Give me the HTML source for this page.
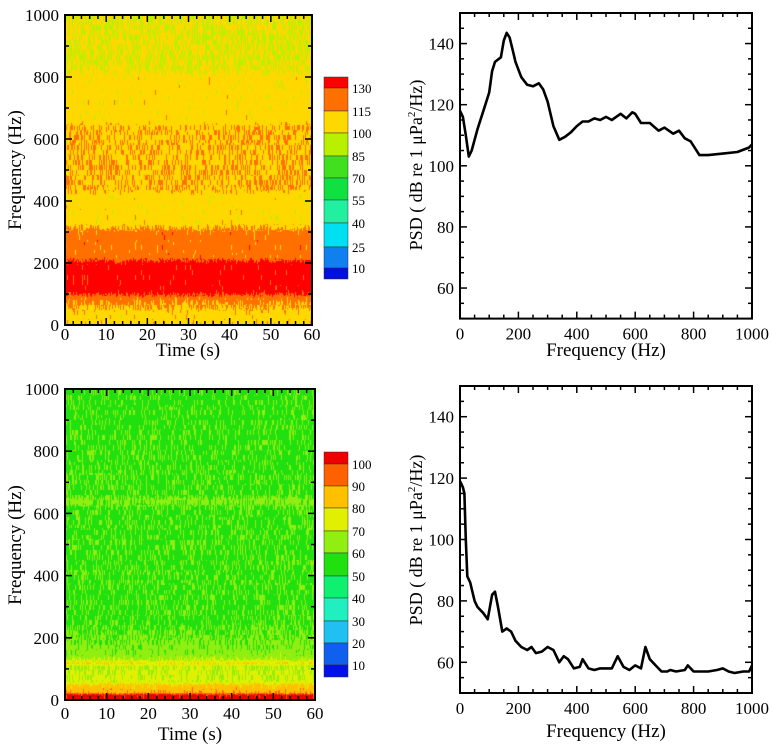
<!DOCTYPE html>
<html><head><meta charset="utf-8"><style>
html,body{margin:0;padding:0;background:#fff;}
#root{position:relative;width:773px;height:752px;overflow:hidden;font-family:"Liberation Serif",serif;}
canvas,svg{position:absolute;left:0;top:0;}
</style></head><body>
<div id="root">
<canvas id="cv" width="773" height="752"></canvas>
<svg id="sv" width="773" height="752"></svg>
</div>
<script>
// ---- data ----
const specTopFreqs = [0,20,40,60,90,110,200,220,300,330,420,440,640,660,800,830,1000];
const specTopLevels = [110,108,108,114,122,137,137,122,122,107,107,113,113,107,107,101,101];
const specBotFreqs = [0,18,25,50,60,110,120,130,145,200,260,620,635,645,660,1000];
const specBotLevels = [96,94,78,72,63,60,70,60,54,51,48,48,53,53,48,47];
const cbTopTicks = [130,115,100,85,70,55,40,25,10];
const cbBotTicks = [100,90,80,70,60,50,40,30,20,10];
const cbTopColors = ['#ff0000','#ff7000','#ffd800','#b8f000','#40e020','#10e040','#20f0a0','#00e0f0','#1080f0','#0010e0'];
const cbBotColors = ['#ee0000','#ff6000','#ffc000','#e0f000','#90ee10','#20e010','#10f070','#20f0c0','#20c0f0','#1060f0','#0010e8'];
const psdTopF = [0,10,20,30,40,60,80,100,110,120,140,150,160,170,180,190,210,230,250,270,285,300,320,340,360,380,400,420,440,460,480,500,520,550,570,590,600,620,650,680,700,730,750,770,790,820,850,900,950,990,1000];
const psdTopV = [118,116,110,103,105,112,118,124,131,134,135.5,141,143.5,142,138,134,129,126.5,126,127,125,121,113,108.5,109.5,111,113,114.5,114.5,115.5,115,116,115,117,115.5,117.5,117,114,114,111.5,112.5,110.5,111.5,109,108,103.5,103.5,104,104.5,106,107];
const psdBotF = [0,10,15,20,25,35,50,60,80,95,110,120,130,145,160,175,190,210,230,245,260,280,300,320,340,355,370,390,410,420,440,460,480,520,540,560,580,600,620,635,650,670,690,710,720,740,770,780,800,850,880,900,920,940,970,990,1000];
const psdBotV = [119,117,115,100,88,86,80,78,76,74,82,83,78,70,71,70,67,65,64,65,63,63.5,65,64,60,62,61,58,58.5,61,58,57.5,58,58,62,58.5,57.5,59,58,65,61,59,57,57,57.5,57,57.5,59,57,57,57.5,58,57,56.5,57,57,59];
const timeTicks=[0,10,20,30,40,50,60];
const freqTicks=[0,200,400,600,800,1000];
const psdTicks=[60,80,100,120,140];

const NS='http://www.w3.org/2000/svg';
const sv=document.getElementById('sv');
function el(tag,attrs,parent){const e=document.createElementNS(NS,tag);for(const k in attrs)e.setAttribute(k,attrs[k]);(parent||sv).appendChild(e);return e;}
function txt(x,y,s,anchor,size,parent,rot){const t=el('text',{x:x,y:y,'text-anchor':anchor||'middle','font-size':size||17,'font-family':'Liberation Serif, serif',fill:'#000'},parent);if(rot)t.setAttribute('transform','rotate(-90 '+x+' '+y+')');t.textContent=s;return t;}
function interp(fs,vs,f){for(let i=1;i<fs.length;i++){if(f<=fs[i]){const t=(f-fs[i-1])/(fs[i]-fs[i-1]);return vs[i-1]+t*(vs[i]-vs[i-1]);}}return vs[vs.length-1];}
function hash(a,b){let h=(a*374761393+b*668265263)|0;h=(h^(h>>>13))*1274126177|0;return ((h^(h>>>16))>>>0)/4294967295;}

const cv=document.getElementById('cv').getContext('2d');
function spectro(name,L,R,T,B,fs,vs,colors,lo,step,seed,amp){
  for(let x=L;x<R;x++){
    for(let y=T;y<B;y++){
      const f=(B-y)/(B-T)*1000;
      const base=interp(fs,vs,f);
      const j=(hash(x+seed,Math.floor(y/5))-0.5)*amp+(hash(x*7+seed,Math.floor(y/11))-0.5)*amp*0.5;
      const v=base+j;
      let idx=Math.floor((v-lo)/step);
      let n=colors.length;
      let ci=n-2-idx; if(ci<0)ci=0; if(ci>n-1)ci=n-1;
      cv.fillStyle=colors[ci];cv.fillRect(x,y,1,1);
    }
  }
}
function frameAxes(name,L,R,T,B,xt,xmin,xmax,yt,ymin,ymax,xminor,yminor,xoff){
  const g=el('g',{});
  
  
  el('rect',{x:L,y:T,width:R-L,height:B-T,fill:'none',stroke:'#000','stroke-width':2},g);
  const X=v=>L+(v-xmin)/(xmax-xmin)*(R-L), Y=v=>B-(v-ymin)/(ymax-ymin)*(B-T);
  for(let v=xmin;v<=xmax+1e-9;v+=xminor){const big=xt.some(t=>Math.abs(t-v)<1e-6);const l=big?7:4;
    el('line',{x1:X(v),x2:X(v),y1:B,y2:B-l,stroke:'#000','stroke-width':1.5},g);el('line',{x1:X(v),x2:X(v),y1:T,y2:T+l,stroke:'#000','stroke-width':1.5},g);}
  for(let v=ymin;v<=ymax+1e-9;v+=yminor){const big=yt.some(t=>Math.abs(t-v)<1e-6);const l=big?7:4;
    el('line',{x1:L,x2:L+l,y1:Y(v),y2:Y(v),stroke:'#000','stroke-width':1.5},g);el('line',{x1:R,x2:R-l,y1:Y(v),y2:Y(v),stroke:'#000','stroke-width':1.5},g);}
  xt.forEach(t=>{const e=txt(X(t),B+xoff,String(t),'middle',17,g);});
  yt.forEach(t=>{const e=txt(L-6,Y(t)+6,String(t),'end',17,g);});
  return {X,Y,g};
}
function colorbar(name,L,W,T,B,bounds,colors,ticks){
  const g=el('g',{});
  
  
  const ys=[T].concat(bounds).concat([B]);
  for(let i=0;i<colors.length;i++){el('rect',{x:L,y:ys[i],width:W,height:ys[i+1]-ys[i],fill:colors[i],stroke:'#333','stroke-width':0.5},g);}
  ticks.forEach((t,i)=>{const e=txt(L+W+4,bounds[i]+5,String(t),'start',13,g);});
}
function psd(name,ax,F,V){
  let d='';F.forEach((f,i)=>{d+=(i?'L':'M')+ax.X(f).toFixed(1)+','+ax.Y(V[i]).toFixed(1);});
  const p=el('path',{d:d,fill:'none',stroke:'#000','stroke-width':2.6,'stroke-linejoin':'round'});
  
  
}
function ytitle(x,y){const t=txt(x,y,'','middle',18,null,true);t.innerHTML='PSD ( dB re 1 μPa<tspan dy="-7" font-size="11">2</tspan><tspan dy="7">/Hz)</tspan>';}
// top-left spectrogram
spectro('spectrogram-top',65,312,15,325,specTopFreqs,specTopLevels,cbTopColors,10,15,11,12);
frameAxes('spectrogram-top-axes',65,312,15,325,timeTicks,0,60,freqTicks,0,1000,2,100,15);
txt(188,356,'Time (s)','middle',19);
txt(21,170,'Frequency (Hz)','middle',19,null,true);
colorbar('colorbar-top',324,24,77,279,[88,111,133,156,178,200,223,247,268],cbTopColors,cbTopTicks);
// bottom-left spectrogram
spectro('spectrogram-bottom',65,315,389,700,specBotFreqs,specBotLevels,cbBotColors,0,10,53,9);
frameAxes('spectrogram-bottom-axes',65,315,389,700,timeTicks,0,60,freqTicks,0,1000,2,100,19);
txt(190,740,'Time (s)','middle',19);
txt(21,545,'Frequency (Hz)','middle',19,null,true);
colorbar('colorbar-bottom',324,24,452,677,[464,486,508,531,553,576,598,621,643,665],cbBotColors,cbBotTicks);
// top-right psd
const a1=frameAxes('psd-top-axes',460,752,13,318.6,[0,200,400,600,800,1000],0,1000,psdTicks,50,150,50,5,21);
psd('psd-top-line',a1,psdTopF,psdTopV);
txt(606,356,'Frequency (Hz)','middle',19);
ytitle(422,165);
// bottom-right psd
const a2=frameAxes('psd-bottom-axes',460,752,386,693,[0,200,400,600,800,1000],0,1000,psdTicks,50,150,50,5,21);
psd('psd-bottom-line',a2,psdBotF,psdBotV);
txt(606,737,'Frequency (Hz)','middle',19);
ytitle(422,540);
</script>
</body></html>
